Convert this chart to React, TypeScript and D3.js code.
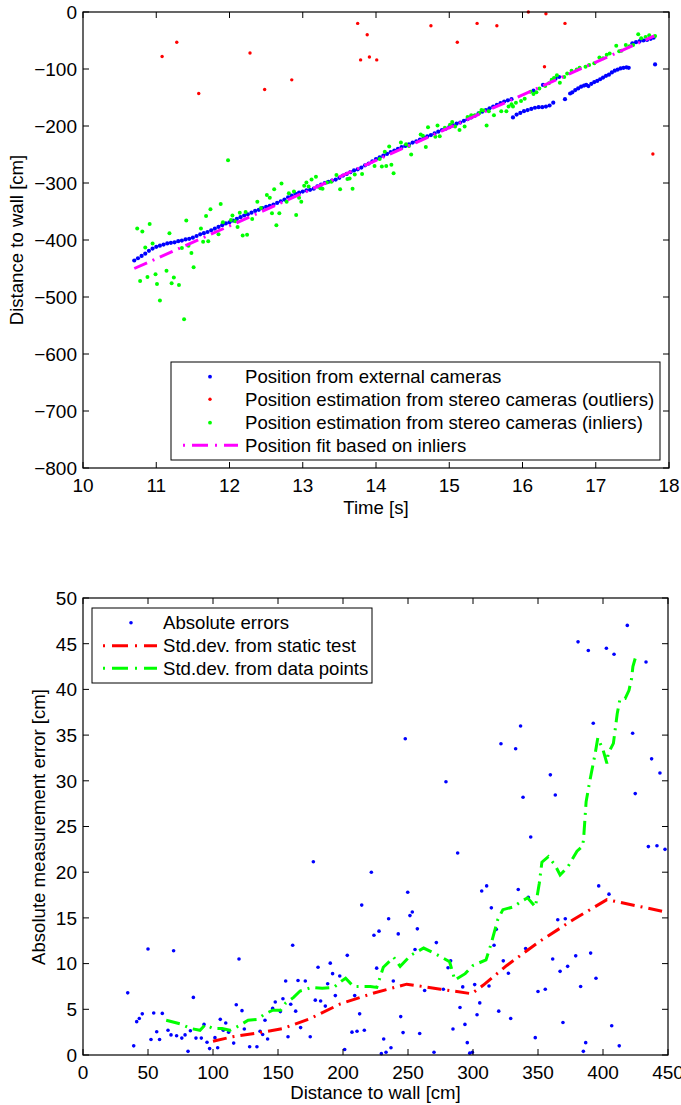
import React from 'react';
import * as d3 from 'd3';

// ---------- Top plot data ----------
const extTime = [10.70,10.75,10.80,10.85,10.90,10.95,11.00,11.05,11.10,11.15,11.20,11.25,11.30,11.35,11.40,11.45,11.50,11.55,11.60,11.65,11.70,11.75,11.80,11.85,11.90,11.95,12.00,12.05,12.10,12.15,12.20,12.25,12.30,12.35,12.40,12.45,12.50,12.55,12.60,12.65,12.70,12.75,12.80,12.85,12.90,12.95,13.00,13.05,13.10,13.15,13.20,13.25,13.30,13.35,13.40,13.45,13.50,13.55,13.60,13.65,13.70,13.75,13.80,13.85,13.90,13.95,14.00,14.05,14.10,14.15,14.20,14.25,14.30,14.35,14.40,14.45,14.50,14.55,14.60,14.65,14.70,14.75,14.80,14.85,14.90,14.95,15.00,15.05,15.10,15.15,15.20,15.25,15.30,15.35,15.40,15.45,15.50,15.55,15.60,15.65,15.70,15.75,15.80,15.85,
  15.87,15.92,15.97,16.02,16.07,16.12,16.17,16.22,16.27,16.32,16.37,16.42,16.58,16.65,16.68,16.72,16.76,16.80,16.84,16.87,16.90,16.94,16.98,17.02,17.06,17.10,17.14,17.18,17.22,17.26,17.30,17.34,17.38,17.42,17.45,
  16.15,16.28,16.40,16.45,16.50,17.50,17.55,17.60,17.65,17.70,17.75,17.79,17.81];
const extDist = [-436,-432,-428,-424,-419,-415,-412,-410,-408,-406,-405,-404,-402,-401,-399,-398,-396,-393,-390,-388,-386,-383,-380,-377,-374,-371,-369,-366,-363,-360,-357,-355,-352,-349,-347,-344,-342,-340,-338,-335,-332,-329,-325,-322,-319,-317,-315,-313,-312,-310,-306,-303,-300,-298,-296,-294,-291,-287,-284,-281,-278,-276,-273,-269,-266,-262,-258,-255,-252,-249,-246,-243,-240,-237,-235,-232,-229,-227,-224,-221,-218,-216,-213,-210,-207,-205,-202,-199,-196,-194,-191,-188,-185,-182,-178,-175,-172,-169,-166,-163,-160,-157,-155,-153,
  -185,-180,-177,-174,-172,-170,-168,-167,-167,-166,-164,-159,-153,-143,-141,-137,-134,-131,-129,-128,-130,-126,-123,-121,-118,-115,-112,-110,-106,-103,-101,-99,-98,-97,-98,
  -138,-128,-120,-117,-114,-55,-53,-51,-50,-49,-47,-45,-92];

const outTime = [11.08,11.28,11.58,12.28,12.48,12.85,13.75,13.79,13.88,13.91,14.01,14.75,15.11,15.38,15.65,16.08,16.30,16.32,16.58,17.78];
const outDist = [-78,-53,-143,-72,-136,-119,-20,-84,-40,-79,-84,-24,-53,-20,-24,0,-96,-3,-20,-249];

const inTime = [10.74,10.78,10.81,10.85,10.88,10.91,10.95,10.99,11.01,11.05,11.14,11.18,11.21,11.24,11.31,11.35,11.38,11.41,11.44,11.48,11.51,11.61,11.64,11.68,11.71,11.74,11.85,11.88,11.91,11.98,12.02,12.04,12.08,12.11,12.14,12.18,12.22,12.24,12.31,12.38,12.43,12.51,12.55,12.58,12.61,12.64,12.68,12.71,12.78,12.81,12.88,12.91,12.95,12.98,13.02,13.05,13.08,13.12,13.18,13.24,13.27,13.33,13.39,13.46,13.51,13.61,13.64,13.68,13.71,13.81,13.98,14.05,14.08,14.12,14.14,14.18,14.21,14.24,14.34,14.41,14.45,14.48,14.61,14.64,14.68,14.71,14.81,14.84,14.87,14.94,15.01,15.04,15.08,15.14,15.21,15.25,15.30,15.35,15.41,15.44,15.47,15.51,15.54,15.61,15.71,15.78,15.81,15.85,15.87,15.91,15.98,16.03,16.11,16.15,16.19,16.23,16.31,16.36,16.40,16.43,16.47,16.51,16.57,16.61,16.67,16.74,16.78,16.86,16.91,16.98,17.05,17.10,17.15,17.19,17.28,17.32,17.35,17.41,17.46,17.51,17.58,17.62,17.68,17.73,17.81];
const inDist = [-380,-472,-385,-413,-465,-372,-406,-460,-477,-506,-454,-388,-476,-466,-479,-414,-539,-366,-410,-423,-448,-380,-403,-358,-402,-346,-390,-337,-369,-260,-365,-357,-367,-377,-352,-392,-351,-391,-363,-333,-344,-321,-326,-353,-311,-374,-353,-301,-333,-318,-315,-356,-326,-333,-305,-299,-306,-294,-289,-309,-310,-299,-298,-286,-311,-293,-292,-310,-285,-284,-270,-258,-271,-245,-270,-236,-268,-283,-229,-232,-235,-250,-215,-217,-237,-202,-219,-199,-218,-203,-198,-193,-201,-207,-201,-184,-181,-181,-177,-172,-173,-199,-174,-181,-174,-174,-166,-162,-166,-159,-156,-152,-140,-144,-141,-134,-130,-125,-119,-116,-111,-124,-114,-108,-103,-101,-98,-96,-93,-90,-80,-81,-75,-73,-59,-69,-68,-58,-60,-58,-39,-46,-44,-41,-42];

const fitTime = [10.7, 17.8];
const fitDist = [-450, -42];

const topXTicks = [10,11,12,13,14,15,16,17,18];
const topYTicks = [-800,-700,-600,-500,-400,-300,-200,-100,0];
const topLegend = [
  'Position from external cameras',
  'Position estimation from stereo cameras (outliers)',
  'Position estimation from stereo cameras (inliers)',
  'Position fit based on inliers',
];

// ---------- Bottom plot data ----------
const errDist = [34.4,39,41.3,43.3,45.6,50,52.3,54.4,56.7,58.9,61,65.4,67.7,69.7,72,76,78.5,80.8,82.6,84.9,86.9,91,93.1,95.4,97.4,101.5,103.6,105.6,107.9,109.8,112,115.9,117.9,120,122.3,124.1,128.2,133.8,136.2,138.2,140,142,145.9,147.9,151.8,153.8,155.9,157.7,159.8,161.3,163.6,165.4,167.4,171,174.8,177.2,178.7,180.8,182.8,186.4,188.2,190.2,192,194.1,197.5,201.3,203.3,206.9,209,210.8,212.8,214.4,216.4,221.8,223.8,225.9,227.7,229.5,231.3,233.1,235.1,236.9,238.7,242.5,244.4,246.2,247.9,249.8,251.5,253.3,255.4,257.2,259,262.8,270,271.8,277.2,279.2,280.8,282.8,284.6,288.2,290,292.1,293.8,295.6,297.5,299.5,301.3,303.1,305.2,306.7,310.5,312.3,314.1,316.2,317.9,319.8,321.5,323.3,327.2,329,332.8,334.8,336.6,338.5,340.5,342.5,344.4,347.9,350,355.6,359.5,361.3,363.3,365.2,367,369.2,371,372.8,379,380.8,382.8,384.9,386.7,388.7,390.5,392.5,394.6,396.7,402.6,404.6,406.7,408.5,412.5,418.7,422.8,424.8,433.1,434.9,437.4,441.5,443.8,447.7];
const errVal = [6.8,1.0,3.65,4.0,4.5,11.6,1.7,4.6,2.55,1.7,4.55,2.7,2.2,11.4,2.1,1.85,2.2,0.4,2.65,6.3,1.85,1.85,3.35,1.4,0.7,1.9,0.8,3.9,2.7,3.5,2.5,1.3,5.5,10.5,4.85,2.85,0.9,0.9,2.6,2.25,3.8,1.75,5.1,5.8,4.75,6.15,8.1,2.0,5.55,12.0,4.8,8.15,3.0,8.1,2.0,21.15,6.0,9.6,5.9,5.35,7.8,10.05,8.9,6.5,8.65,0.6,10.9,2.5,6.5,2.6,4.5,16.4,2.7,20.0,13.1,9.5,13.55,0.15,1.75,0.3,14.9,0.8,8.1,13.25,4.2,2.45,34.6,17.8,15.25,15.65,11.55,13.8,2.35,7.05,0.3,12.3,7.2,29.9,9.55,10.3,2.85,22.1,5.2,7.45,3.35,1.35,0.2,0.3,7.7,4.4,5.7,17.95,18.5,7.55,16.1,12.0,13.75,4.8,34.05,10.3,8.95,4.0,33.5,18.1,36.0,28.2,11.65,17.25,23.85,1.9,6.95,7.2,30.65,10.5,28.45,14.8,9.15,3.55,14.9,9.7,10.85,45.2,7.5,0.4,1.35,44.25,11.15,36.3,8.4,18.5,44.5,17.6,3.2,43.85,1.0,47.0,35.2,28.6,43.0,22.8,32.4,22.9,30.85,22.5];

const staticDist = [100,115,136,154,175,198,223,249,275,299,308,326,351,377,403,450];
const staticStd = [1.5,2.0,2.45,2.9,4.0,5.6,6.75,7.75,7.2,6.7,7.65,9.8,12.4,14.8,17.0,15.6];

const dataDist = [64,75,83,90,94,100,107,113,120,127,134,140,146,152,156,162,167,176,184,193,198,202,208,214,221,226,231,239,244,252,262,272,282,286,294,300,310,314,319,323,331,337,342,348,351,353,358,363,367,373,380,384,385,387,390,394,396,400,403,404,408,411,413,417,420,422,423,425];
const dataStd = [3.8,3.4,2.9,2.7,3.3,2.9,2.9,2.7,3.2,3.8,3.9,4.5,4.9,4.9,5.7,6.3,7.0,7.4,7.3,7.4,8.0,8.4,7.5,7.5,7.5,7.4,9.6,10.7,9.7,10.9,11.7,11.0,10.2,8.2,8.9,9.8,10.4,12.2,14.8,15.9,16.2,16.8,17.2,16.2,18.8,21.1,21.7,20.8,19.7,20.6,22.3,22.8,23.5,27.7,30.1,33.0,34.7,33.4,31.9,33.0,34.1,37.4,38.9,39.0,39.9,41.2,42.5,43.5];

const botXTicks = [0,50,100,150,200,250,300,350,400,450];
const botYTicks = [0,5,10,15,20,25,30,35,40,45,50];
const botLegend = ['Absolute errors', 'Std.dev. from static test', 'Std.dev. from data points'];

const FONT = '"Liberation Sans", Arial, Helvetica, sans-serif';
const DASH = '14 6 2 6';
const TICK_FS = 19;
const TEXT_FS = 18.6;

function Frame({ x, y, xTicks, yTicks, fmtY }: any) {
  const [x0, x1] = x.range();
  const [y0, y1] = y.range(); // y0 bottom, y1 top
  const tl = 6;
  return (
    <g>
      <rect x={x0} y={y1} width={x1 - x0} height={y0 - y1} fill="none" stroke="#000" strokeWidth={1.2} />
      {xTicks.map((t: number) => (
        <g key={'x' + t}>
          <line x1={x(t)} x2={x(t)} y1={y0} y2={y0 - tl} stroke="#000" />
          <line x1={x(t)} x2={x(t)} y1={y1} y2={y1 + tl} stroke="#000" />
          <text x={x(t)} y={y0 + 24} textAnchor="middle" fontSize={TICK_FS} fontFamily={FONT}>{String(t)}</text>
        </g>
      ))}
      {yTicks.map((t: number) => (
        <g key={'y' + t}>
          <line x1={x0} x2={x0 + tl} y1={y(t)} y2={y(t)} stroke="#000" />
          <line x1={x1} x2={x1 - tl} y1={y(t)} y2={y(t)} stroke="#000" />
          <text x={x0 - 6} y={y(t)} dy="0.36em" textAnchor="end" fontSize={TICK_FS} fontFamily={FONT}>{fmtY(t)}</text>
        </g>
      ))}
    </g>
  );
}

export default function App() {
  // top plot
  const tx = d3.scaleLinear().domain([10, 18]).range([83, 669]);
  const ty = d3.scaleLinear().domain([-800, 0]).range([468, 12]);
  // bottom plot
  const bx = d3.scaleLinear().domain([0, 450]).range([83, 668]);
  const by = d3.scaleLinear().domain([0, 50]).range([1055, 598]);

  const fmtTop = (v: number) => (v < 0 ? '\u2212' + Math.abs(v) : String(v));
  const fitLine = d3.line<number>().x((d, i) => tx(fitTime[i])).y((d) => ty(d))(fitDist) || '';
  const staticLine = d3.line<number>().x((d, i) => bx(staticDist[i])).y((d) => by(d))(staticStd) || '';
  const dataLine = d3.line<number>().x((d, i) => bx(dataDist[i])).y((d) => by(d))(dataStd) || '';

  const tlx = 171, tly = 362, tlw = 489, tlh = 98;
  const tRows = [376.7, 399.3, 422.7, 445.3];
  const blx = 92, bly = 608, blw = 280, blh = 75;
  const bRows = [622.7, 645.7, 668.3];

  return (
    <svg width={681} height={1105} style={{ position: 'absolute', left: 0, top: 0, background: '#fff' }}>
      <rect x={0} y={0} width={681} height={1105} fill="#fff" />
      {/* ===== Top plot ===== */}
      <g>
        {extTime.map((t, i) => (
          <circle key={'e' + i} cx={tx(t)} cy={ty(extDist[i])} r={2.1} fill="#0000ff" />
        ))}
        {outTime.map((t, i) => (
          <circle key={'o' + i} cx={tx(t)} cy={ty(outDist[i])} r={1.7} fill="#ff0000" />
        ))}
        {inTime.map((t, i) => (
          <circle key={'in' + i} cx={tx(t)} cy={ty(inDist[i])} r={2} fill="#00ff00" />
        ))}
        <path d={fitLine} fill="none" stroke="#ff00ff" strokeWidth={3} strokeDasharray={DASH} />
        <Frame x={tx} y={ty} xTicks={topXTicks} yTicks={topYTicks} fmtY={fmtTop} />
        <text x={376} y={514} textAnchor="middle" fontSize={TEXT_FS} fontFamily={FONT}>Time [s]</text>
        <text transform={`translate(23,240) rotate(-90)`} textAnchor="middle" fontSize={TEXT_FS} fontFamily={FONT}>Distance to wall [cm]</text>
        {/* legend */}
        <rect x={tlx} y={tly} width={tlw} height={tlh} fill="#fff" stroke="#000" strokeWidth={1} />
        <circle cx={210} cy={tRows[0]} r={1.9} fill="#0000ff" />
        <circle cx={210} cy={tRows[1]} r={1.7} fill="#ff0000" />
        <circle cx={210} cy={tRows[2]} r={1.9} fill="#00ff00" />
        <line x1={183} x2={238} y1={tRows[3]} y2={tRows[3]} stroke="#ff00ff" strokeWidth={3} strokeDasharray="2 7 16 7" />
        {topLegend.map((s, i) => (
          <text key={'tl' + i} x={245} y={tRows[i]} dy="0.36em" fontSize={TEXT_FS} fontFamily={FONT}>{s}</text>
        ))}
      </g>
      {/* ===== Bottom plot ===== */}
      <g>
        {errDist.map((d, i) => (
          <circle key={'b' + i} cx={bx(d)} cy={by(errVal[i])} r={1.8} fill="#0000ff" />
        ))}
        <path d={staticLine} fill="none" stroke="#ff0000" strokeWidth={3} strokeDasharray={DASH} />
        <path d={dataLine} fill="none" stroke="#00ff00" strokeWidth={3} strokeDasharray={DASH} />
        <Frame x={bx} y={by} xTicks={botXTicks} yTicks={botYTicks} fmtY={(v: number) => String(v)} />
        <text x={375.5} y={1099} textAnchor="middle" fontSize={TEXT_FS} fontFamily={FONT}>Distance to wall [cm]</text>
        <text transform={`translate(45,827) rotate(-90)`} textAnchor="middle" fontSize={TEXT_FS} fontFamily={FONT}>Absolute measurement error [cm]</text>
        <rect x={blx} y={bly} width={blw} height={blh} fill="#fff" stroke="#000" strokeWidth={1} />
        <circle cx={131} cy={bRows[0]} r={1.8} fill="#0000ff" />
        <line x1={103} x2={157} y1={bRows[1]} y2={bRows[1]} stroke="#ff0000" strokeWidth={3} strokeDasharray="2 7 16 7" />
        <line x1={103} x2={157} y1={bRows[2]} y2={bRows[2]} stroke="#00ff00" strokeWidth={3} strokeDasharray="2 7 16 7" />
        {botLegend.map((s, i) => (
          <text key={'bl' + i} x={163} y={bRows[i]} dy="0.36em" fontSize={TEXT_FS} fontFamily={FONT}>{s}</text>
        ))}
      </g>
    </svg>
  );
}
